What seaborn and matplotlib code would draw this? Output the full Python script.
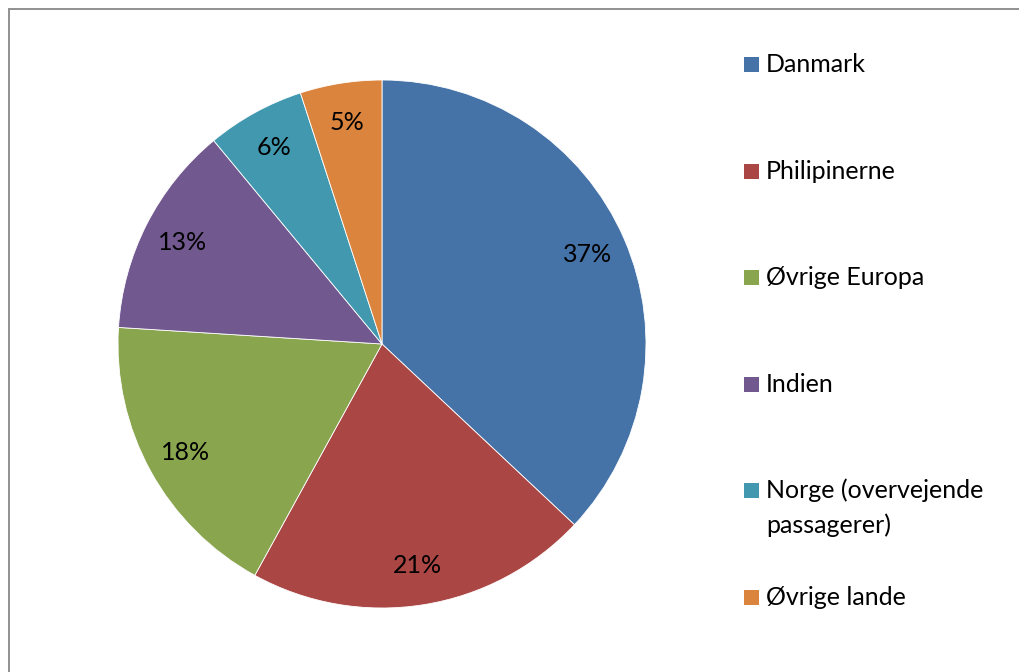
import matplotlib
matplotlib.use("Agg")
import matplotlib.pyplot as plt
from matplotlib.patches import Rectangle
from matplotlib.lines import Line2D
import seaborn as sns

# Share of crew by nationality (percent)
countries = ["Danmark", "Philipinerne", "Øvrige Europa", "Indien",
             "Norge (overvejende\npassagerer)", "Øvrige lande"]
shares = [37, 21, 18, 13, 6, 5]
slice_colors = ["#4572A7", "#AA4643", "#89A54E", "#71588F", "#4198AF", "#DB843D"]

sns.set_theme(style="white")
plt.rcParams["font.family"] = ["Lato", "DejaVu Sans"]

W, H = 1019, 672
fig = plt.figure(figsize=(W / 100, H / 100), dpi=100)
fig.patch.set_facecolor("white")

# pie placed by pixel centre and radius
cx, cy, r = 382, 344, 264
ax = fig.add_axes([(cx - r) / W, (H - cy - r) / H, 2 * r / W, 2 * r / H])
wedges, texts, autotexts = ax.pie(
    shares,
    colors=slice_colors,
    startangle=90,
    counterclock=False,
    radius=1,
    autopct=lambda p: f"{p:.0f}%",
    pctdistance=0.85,
    wedgeprops=dict(edgecolor="white", linewidth=0.6),
    textprops=dict(fontsize=18, color="black"),
)
ax.set_xlim(-1, 1)
ax.set_ylim(-1, 1)
ax.set_aspect("equal")
ax.axis("off")

# legend drawn as coloured squares with labels on the right
first_baseline, row_step, line_step = 72, 106.6, 35
sq_left, sq_size, text_left = 744, 15, 766
for i, (name, col) in enumerate(zip(countries, slice_colors)):
    base = first_baseline + i * row_step
    fig.patches.append(Rectangle((sq_left / W, (H - base) / H), sq_size / W, sq_size / H,
                                 transform=fig.transFigure, facecolor=col, edgecolor="none"))
    for j, line in enumerate(name.split("\n")):
        fig.text(text_left / W, (H - base - j * line_step) / H, line,
                 fontsize=18, color="black", ha="left", va="baseline")

# chart area frame (top and left edges visible)
frame_kw = dict(transform=fig.transFigure, color="#888888", linewidth=1.3)
fig.lines.append(Line2D([8.5 / W, 8.5 / W], [0, (H - 8.5) / H], **frame_kw))
fig.lines.append(Line2D([8.5 / W, 1], [(H - 8.5) / H, (H - 8.5) / H], **frame_kw))

fig.savefig("out.png", dpi=100, facecolor="white")
